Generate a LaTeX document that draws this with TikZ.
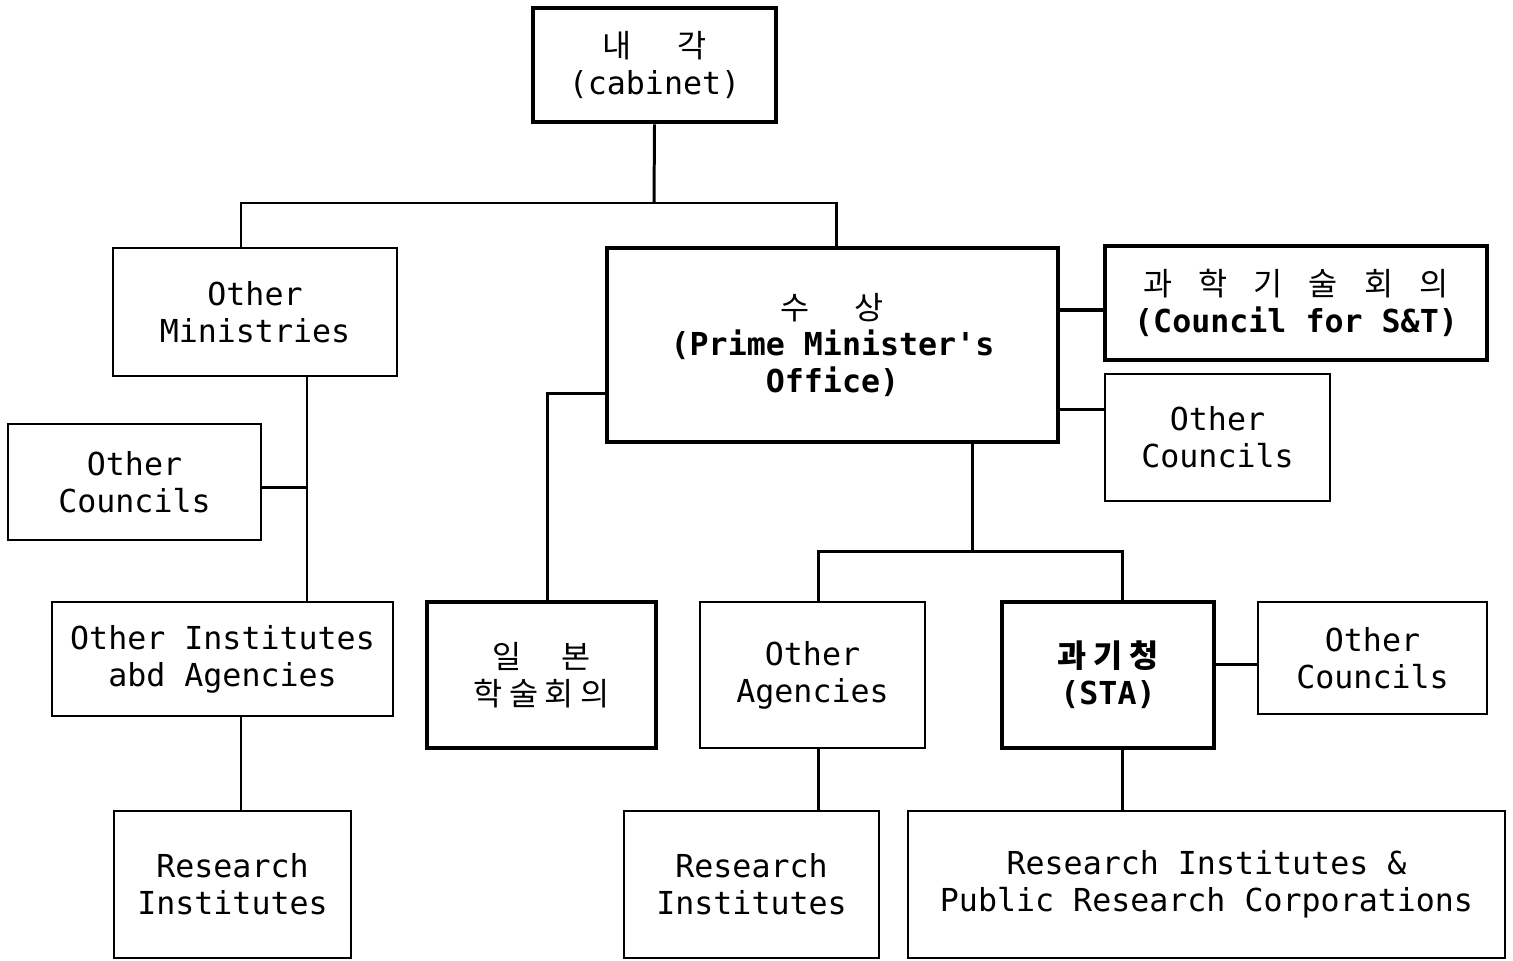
\documentclass[tikz,border=0pt]{standalone}
\usepackage{fontspec}
\newfontfamily\mono{DejaVu Sans Mono}
\newfontfamily\kr{Noto Sans CJK KR}
\newcommand\kgap{\hspace{0.13cm}}

\begin{document}
\begin{tikzpicture}[x=0.02cm,y=-0.02cm,line width=1.7pt,
  font=\mono\fontsize{18}{21}\selectfont]
  \tikzstyle{box}=[draw,line width=1.1pt,align=center,inner sep=0pt]
  \tikzstyle{heavy}=[box,line width=2.6pt]
  \useasboundingbox (0,0) rectangle (1513,960);

  % top
  \node[heavy,minimum width=4.86cm,minimum height=2.28cm] (cab) at (654.5,65)
    {{\kr 내\hspace{0.92cm}각}\\(cabinet)};
  \node[box,minimum width=5.68cm,minimum height=2.56cm] (mini) at (255,312)
    {Other\\Ministries};
  \node[heavy,minimum width=9.02cm,minimum height=3.88cm] (pmo) at (832.5,345)
    {{\kr 수\hspace{0.9cm}상}\\\bfseries(Prime Minister's\\\bfseries Office)};
  \node[heavy,minimum width=7.64cm,minimum height=2.28cm] (cst) at (1296,303)
    {{\kr 과\hspace{0.52cm}학\hspace{0.52cm}기\hspace{0.52cm}술\hspace{0.52cm}회\hspace{0.52cm}의}\\\bfseries(Council for S\&T)};
  \node[box,minimum width=4.5cm,minimum height=2.54cm] (ocR) at (1217.5,437.5)
    {Other\\Councils};
  \node[box,minimum width=5.06cm,minimum height=2.32cm] (ocL) at (134.5,482)
    {Other\\Councils};

  % middle row
  \node[box,minimum width=6.82cm,minimum height=2.28cm] (oia) at (222.5,659)
    {Other Institutes\\abd Agencies};
  \node[heavy,minimum width=4.58cm,minimum height=2.92cm] (jsc) at (541.5,675)
    {{\kr 일\hspace{0.8cm}본}\\{\kr 학\kgap 술\kgap 회\kgap 의}};
  \node[box,minimum width=4.5cm,minimum height=2.92cm] (oag) at (812.5,675)
    {Other\\Agencies};
  \node[heavy,minimum width=4.24cm,minimum height=2.92cm] (sta) at (1108,675)
    {{\kr\bfseries 과\kgap 기\kgap 청}\\\bfseries(STA)};
  \node[box,minimum width=4.58cm,minimum height=2.24cm] (ocS) at (1372.5,658)
    {Other\\Councils};

  % bottom row
  \node[box,minimum width=4.74cm,minimum height=2.94cm] (riL) at (232.5,884.5)
    {Research\\Institutes};
  \node[box,minimum width=5.1cm,minimum height=2.94cm] (riM) at (751.5,884.5)
    {Research\\Institutes};
  \node[box,minimum width=11.94cm,minimum height=2.94cm] (riR) at (1206.5,884.5)
    {Research Institutes \&\\Public Research Corporations};

  \coordinate (jt) at (654,203);
  \coordinate (jb) at (972,551);
  \coordinate (jl) at (307,487);

  \draw (cab.south) -- (jt);
  \draw (mini.north -| 241,0) |- (jt) -| (pmo.north -| 836,0);
  \draw (mini.south -| jl) -- (oia.north -| jl);
  \draw (ocL.east |- jl) -- (jl);
  \draw (oia.south -| 241,0) -- (riL.north -| 241,0);
  \draw (pmo.west |- 0,393) -| (jsc.north -| 547,0);
  \draw[line width=2.6pt] (pmo.east |- 0,310) -- (cst.west |- 0,310);
  \draw (pmo.east |- 0,409) -- (ocR.west |- 0,409);
  \draw (pmo.south -| jb) -- (jb);
  \draw (oag.north -| 818,0) |- (jb) -| (sta.north -| 1122,0);
  \draw (sta.east |- 0,664) -- (ocS.west |- 0,664);
  \draw (oag.south -| 818,0) -- (riM.north -| 818,0);
  \draw (sta.south -| 1122,0) -- (riR.north -| 1122,0);
\end{tikzpicture}
\end{document}
